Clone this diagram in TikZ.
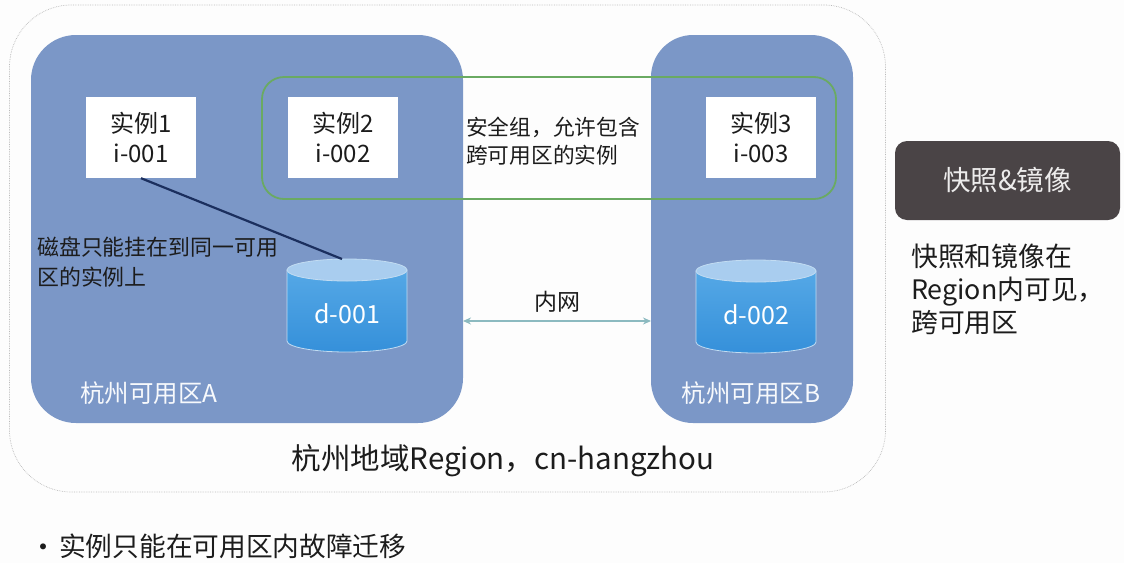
\documentclass[tikz,border=0pt]{standalone}
\usepackage{fontspec}
\setmainfont{Noto Sans CJK SC}
\usetikzlibrary{arrows.meta}
\definecolor{bgc}{HTML}{FDFDFD}
\definecolor{zonec}{HTML}{7B97C7}
\definecolor{sgc}{HTML}{6AAA62}
\definecolor{darkbox}{HTML}{4A4446}
\definecolor{txt}{HTML}{1C1C1C}
\definecolor{linec}{HTML}{1B2F5E}
\definecolor{netc}{HTML}{8CBAC0}
\definecolor{diskTop}{HTML}{A9CDEF}
\definecolor{diskA}{HTML}{55A8E6}
\definecolor{diskB}{HTML}{3590DA}
\definecolor{diskEdge}{HTML}{C2DCF2}
\tikzset{
  region/.style={draw=gray!55, densely dotted, line width=0.7pt, fill=bgc, rounded corners=62pt},
  zone/.style={fill=zonec, rounded corners=45pt, draw=none},
  secgroup/.style={draw=sgc, line width=1.8pt, rounded corners=22pt, fill=none},
  inst/.style={fill=white, draw=none, minimum width=110pt, minimum height=81pt, align=center, text=txt, inner sep=0pt, font=\fontsize{24}{30}\selectfont},
  lbl/.style={text=txt, inner sep=0pt, align=left},
  zlbl/.style={text=white!94!zonec, inner sep=0pt, font=\fontsize{24.5}{28}\selectfont},
  disktxt/.style={text=white, inner sep=0pt, font=\fontsize{25}{30}\selectfont},
  attach/.style={draw=linec, line width=2.2pt},
  net/.style={draw=netc, line width=2pt, {Stealth[length=8pt,width=7pt]}-{Stealth[length=8pt,width=7pt]}},
  snapbox/.style={fill=darkbox, rounded corners=12pt, minimum width=225pt, minimum height=79pt, text=white!90!darkbox, inner sep=0pt, font=\fontsize{27.5}{30}\selectfont},
}
\newcommand\mydisk[3]{% x, topy, bottomy
  \path[top color=diskA, bottom color=diskB, draw=diskEdge, line width=0.8pt]
    (#1-60,#2) -- (#1-60,#3) arc[start angle=180, end angle=0, x radius=60, y radius=11] -- (#1+60,#2) -- cycle;
  \path[fill=diskTop, draw=diskEdge, line width=0.8pt] (#1,#2) ellipse [x radius=60, y radius=11];
}
\begin{document}
\begin{tikzpicture}[x=1pt,y=-1pt]
\useasboundingbox (0,0) rectangle (1124,563);
\fill[bgc] (0,0) rectangle (1124,563);

\node[region, minimum width=876pt, minimum height=487pt] (reg) at (447.5,248.5) {};
\node[zone, minimum width=432pt, minimum height=388pt] (zA) at (247,229) {};
\node[zone, rounded corners=42pt, minimum width=202pt, minimum height=388pt] (zB) at (752,229) {};

\node[inst] (i1) at (141,137.5) {实例1\\i-001};
\node[inst] (i2) at (343,137.5) {实例2\\i-002};
\node[inst] (i3) at (761,137.5) {实例3\\i-003};

\node[secgroup, minimum width=574pt, minimum height=122pt] (sg) at (549,138) {};
\node[lbl, anchor=west, font=\fontsize{21.7}{28}\selectfont] (sgt) at (466,141) {安全组，允许包含\\跨可用区的实例};

\mydisk{347}{270}{341}
\node[disktxt] (d1) at (347,314) {d-001};
\coordinate (d1top) at (342,259);
\mydisk{756}{271}{342}
\node[disktxt] (d2) at (756,315) {d-002};

\draw[attach] (i1.south) -- (d1top);
\node[lbl, anchor=west, font=\fontsize{21.9}{30}\selectfont] (dnote) at (37,262) {磁盘只能挂在到同一可用\\区的实例上};

\coordinate (na) at (463,321);
\coordinate (nb) at (651,321);
\draw[net] (na) -- (nb);
\node[lbl, font=\fontsize{23}{28}\selectfont] (netl) at (557,302) {内网};

\node[zlbl, anchor=west] (zAl) at (80,393) {杭州可用区A};
\node[zlbl] (zBl) at (751,393) {杭州可用区B};

\node[lbl, font=\fontsize{29.5}{34}\selectfont] (regl) at (503,461) {杭州地域Region，cn-hangzhou};

\node[snapbox] (snap) at (1007.5,180.5) {快照\&镜像};
\node[lbl, anchor=west, font=\fontsize{26.8}{33}\selectfont] (snapt) at (911,289) {快照和镜像在\\Region内可见，\\跨可用区};

\node[lbl, font=\fontsize{28}{28}\selectfont] (bul) at (43,551) {•};
\node[lbl, anchor=west, font=\fontsize{26.7}{30}\selectfont] (bult) at (59,546) {实例只能在可用区内故障迁移};
\end{tikzpicture}
\end{document}
